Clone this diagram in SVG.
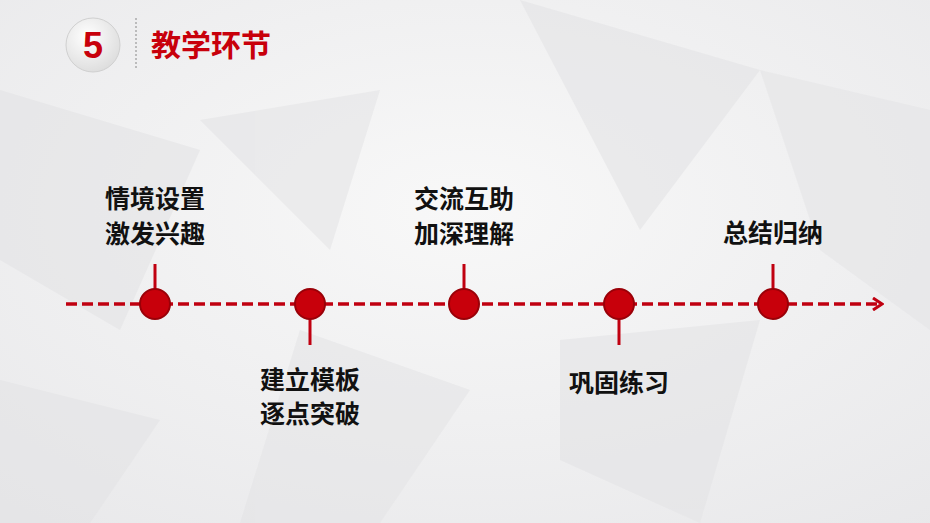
<svg xmlns="http://www.w3.org/2000/svg" width="930" height="523" viewBox="0 0 930 523">
<defs>
<style>
.t{font-family:"Noto Sans CJK SC","Liberation Sans",sans-serif;font-weight:bold;font-size:25px;fill:#111;text-anchor:middle}
.n{fill:#c8000b;stroke:#9a0008;stroke-width:2}
.v{stroke:#c00010;stroke-width:3}
.p{fill:#e4e4e6}
</style>
<radialGradient id="bg" cx="0.5" cy="0.4" r="0.8"><stop offset="0" stop-color="#f8f8f8"/><stop offset="1" stop-color="#e8e8ea"/></radialGradient>
<radialGradient id="badge" cx="0.4" cy="0.35" r="0.7"><stop offset="0" stop-color="#ffffff"/><stop offset="1" stop-color="#dcdcdc"/></radialGradient>
<marker id="ar" markerWidth="12" markerHeight="14" refX="10" refY="7" orient="auto" markerUnits="userSpaceOnUse"><path d="M1,1 L10,7 L1,13" fill="none" stroke="#c00010" stroke-width="3"/></marker>
</defs>
<rect width="930" height="523" fill="url(#bg)"/>
<g opacity="0.6">
<polygon class="p" points="0,90 200,150 120,330 0,260"/>
<polygon class="p" points="520,0 760,70 640,230" fill="#ececee"/>
<polygon class="p" points="760,70 930,110 930,330 820,250"/>
<polygon class="p" points="300,330 470,390 380,523 240,523"/>
<polygon class="p" points="560,340 760,320 700,523 560,460"/>
<polygon class="p" points="0,380 160,420 90,523 0,523"/>
<polygon class="p" points="200,120 380,90 330,250" fill="#eeeef0"/>
</g>
<g id="header">
<circle cx="93" cy="45" r="27" fill="url(#badge)" stroke="#d0d0d0"/>
<text x="93" y="58" font-family="Liberation Sans,sans-serif" font-weight="bold" font-size="36" fill="#c8000b" text-anchor="middle">5</text>
<line x1="136" y1="18" x2="136" y2="70" stroke="#888" stroke-dasharray="2,2"/>
<text x="151" y="56" font-family="Noto Sans CJK SC,sans-serif" font-weight="bold" font-size="30" fill="#c8000b">教学环节</text>
</g>
<g id="connectors">
<line x1="66" y1="304" x2="882" y2="304" stroke="#c00010" stroke-width="3.5" stroke-dasharray="11,5" marker-end="url(#ar)"/>
<line class="v" x1="155" y1="264" x2="155" y2="290"/>
<line class="v" x1="310" y1="318" x2="310" y2="345"/>
<line class="v" x1="464" y1="264" x2="464" y2="290"/>
<line class="v" x1="619" y1="318" x2="619" y2="345"/>
<line class="v" x1="773" y1="264" x2="773" y2="290"/>
</g>
<g id="n1"><circle class="n" cx="155" cy="304" r="15"/><text class="t" x="155" y="208">情境设置</text><text class="t" x="155" y="243">激发兴趣</text></g>
<g id="n2"><circle class="n" cx="310" cy="304" r="15"/><text class="t" x="310" y="389">建立模板</text><text class="t" x="310" y="423">逐点突破</text></g>
<g id="n3"><circle class="n" cx="464" cy="304" r="15"/><text class="t" x="464" y="208">交流互助</text><text class="t" x="464" y="243">加深理解</text></g>
<g id="n4"><circle class="n" cx="619" cy="304" r="15"/><text class="t" x="619" y="392">巩固练习</text></g>
<g id="n5"><circle class="n" cx="773" cy="304" r="15"/><text class="t" x="773" y="242">总结归纳</text></g>
</svg>
